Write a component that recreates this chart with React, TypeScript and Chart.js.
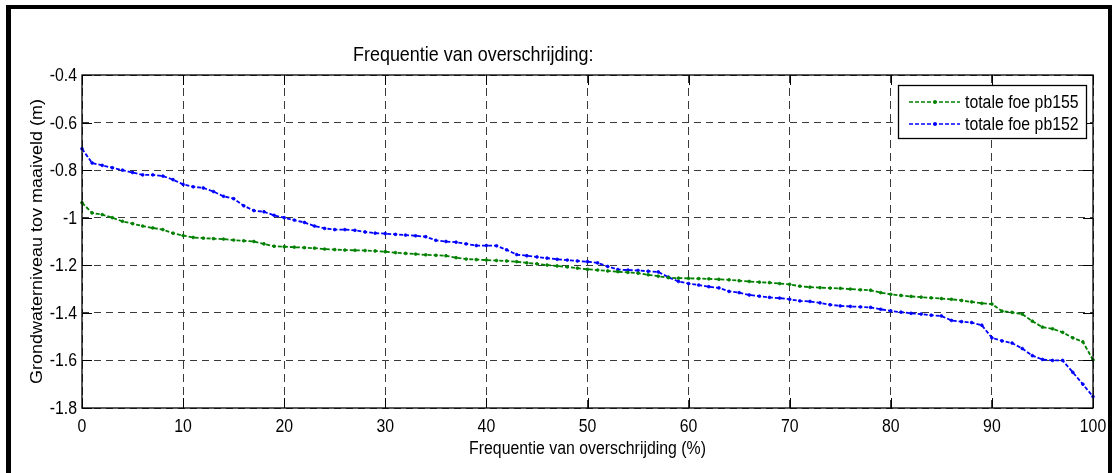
import React, { useEffect, useRef } from "react";
import { Chart, registerables } from "chart.js";

Chart.register(...registerables);

// ---------------- data ----------------
const frequency = [
  0, 1, 2, 3, 4, 5, 6, 7, 8, 9, 10, 11, 12, 13, 14, 15, 16, 17, 18, 19, 20,
  21, 22, 23, 24, 25, 26, 27, 28, 29, 30, 31, 32, 33, 34, 35, 36, 37, 38, 39, 40,
  41, 42, 43, 44, 45, 46, 47, 48, 49, 50, 51, 52, 53, 54, 55, 56, 57, 58, 59, 60,
  61, 62, 63, 64, 65, 66, 67, 68, 69, 70, 71, 72, 73, 74, 75, 76, 77, 78, 79, 80,
  81, 82, 83, 84, 85, 86, 87, 88, 89, 90, 91, 92, 93, 94, 95, 96, 97, 98, 99, 100,
];

const pb155 = [
  -0.937, -0.98, -0.987, -1.0, -1.015, -1.025, -1.035, -1.043, -1.05, -1.065, -1.075,
  -1.083, -1.086, -1.088, -1.09, -1.094, -1.097, -1.1, -1.11, -1.12, -1.122,
  -1.124, -1.126, -1.128, -1.132, -1.134, -1.136, -1.137, -1.138, -1.14, -1.143,
  -1.147, -1.15, -1.153, -1.156, -1.158, -1.16, -1.168, -1.174, -1.176, -1.178,
  -1.18, -1.182, -1.185, -1.19, -1.194, -1.199, -1.203, -1.207, -1.212, -1.217,
  -1.22, -1.224, -1.227, -1.23, -1.233, -1.24, -1.246, -1.252, -1.254, -1.255,
  -1.256, -1.257, -1.259, -1.261, -1.265, -1.268, -1.271, -1.273, -1.277, -1.28,
  -1.288, -1.292, -1.294, -1.296, -1.297, -1.3, -1.303, -1.305, -1.315, -1.322,
  -1.327, -1.331, -1.334, -1.337, -1.34, -1.343, -1.348, -1.354, -1.36, -1.363,
  -1.393, -1.398, -1.405, -1.435, -1.46, -1.467, -1.482, -1.505, -1.522, -1.598,
];

const pb152 = [
  -0.71, -0.77, -0.78, -0.79, -0.8, -0.81, -0.82, -0.82, -0.825, -0.84, -0.86,
  -0.87, -0.875, -0.89, -0.91, -0.92, -0.95, -0.97, -0.975, -0.99, -1.0,
  -1.01, -1.02, -1.035, -1.045, -1.05, -1.05, -1.053, -1.06, -1.065, -1.067,
  -1.07, -1.073, -1.076, -1.08, -1.095, -1.1, -1.103, -1.11, -1.117, -1.117,
  -1.118, -1.135, -1.155, -1.16, -1.165, -1.17, -1.175, -1.178, -1.182, -1.185,
  -1.19, -1.205, -1.218, -1.22, -1.222, -1.225, -1.228, -1.25, -1.268, -1.277,
  -1.283, -1.29, -1.295, -1.31, -1.315, -1.325, -1.33, -1.335, -1.338, -1.343,
  -1.35, -1.352, -1.358, -1.366, -1.371, -1.373, -1.375, -1.377, -1.385, -1.392,
  -1.397, -1.402, -1.405, -1.41, -1.413, -1.432, -1.437, -1.441, -1.452, -1.505,
  -1.518, -1.527, -1.55, -1.58, -1.596, -1.6, -1.6, -1.65, -1.7, -1.752,
];

const seriesLabels = ["totale foe pb155", "totale foe pb152"];
const seriesColors = ["#008000", "#0000ff"];

const xTicks = [0, 10, 20, 30, 40, 50, 60, 70, 80, 90, 100];
const xTickLabels = ["0", "10", "20", "30", "40", "50", "60", "70", "80", "90", "100"];
const yTicks = [-1.8, -1.6, -1.4, -1.2, -1.0, -0.8, -0.6, -0.4];
const yTickLabels = ["-1.8", "-1.6", "-1.4", "-1.2", "-1", "-0.8", "-0.6", "-0.4"];

const chartTitle = "Frequentie van overschrijding:";
const xTitle = "Frequentie van overschrijding (%)";
const yTitle = "Grondwaterniveau tov maaiveld (m)";

// ---------------- styling helpers ----------------
const KX = 0.88;
const FONT = "'Liberation Sans', Arial, sans-serif";

function drawText(
  ctx: CanvasRenderingContext2D,
  s: string,
  x: number,
  y: number,
  size: number,
  align: CanvasTextAlign,
  baseline: CanvasTextBaseline
) {
  ctx.save();
  ctx.translate(x, y);
  ctx.scale(KX, 1);
  ctx.font = `${size}px ${FONT}`;
  ctx.fillStyle = "#000";
  ctx.textAlign = align;
  ctx.textBaseline = baseline;
  ctx.fillText(s, 0, 0);
  ctx.restore();
}

const decorPlugin = {
  id: "matlabDecor",
  beforeDraw(chart: any) {
    const { ctx, width, height } = chart;
    ctx.save();
    ctx.fillStyle = "#fff";
    ctx.fillRect(0, 0, width, height);
    ctx.restore();
  },
  afterDraw(chart: any) {
    const { ctx, chartArea: a, scales } = chart;
    const xs = scales.x;
    const ys = scales.y;
    ctx.save();
    ctx.setLineDash([]);
    ctx.strokeStyle = "#000";
    ctx.lineWidth = 1.3;
    ctx.strokeRect(a.left, a.top, a.right - a.left, a.bottom - a.top);

    // inward ticks on all four sides
    const TL = 10;
    ctx.lineWidth = 1;
    ctx.beginPath();
    xTicks.forEach((v) => {
      const px = Math.round(xs.getPixelForValue(v)) + 0.5;
      ctx.moveTo(px, a.bottom);
      ctx.lineTo(px, a.bottom - TL);
      ctx.moveTo(px, a.top);
      ctx.lineTo(px, a.top + TL);
    });
    yTicks.forEach((v) => {
      const py = Math.round(ys.getPixelForValue(v)) + 0.5;
      ctx.moveTo(a.left, py);
      ctx.lineTo(a.left + TL, py);
      ctx.moveTo(a.right, py);
      ctx.lineTo(a.right - TL, py);
    });
    ctx.stroke();

    // tick labels
    xTicks.forEach((v, i) => {
      drawText(ctx, xTickLabels[i], xs.getPixelForValue(v), a.bottom + 24, 18, "center", "alphabetic");
    });
    yTicks.forEach((v, i) => {
      drawText(ctx, yTickLabels[i], a.left - 5, ys.getPixelForValue(v) + 1, 18, "right", "middle");
    });

    // titles
    drawText(ctx, chartTitle, 353, 61, 20.4, "left", "alphabetic");
    drawText(ctx, xTitle, (a.left + a.right) / 2, 454, 18, "center", "alphabetic");

    ctx.save();
    ctx.translate(41.5, (a.top + a.bottom) / 2);
    ctx.scale(KX, 1);
    ctx.rotate(-Math.PI / 2);
    ctx.font = `18px ${FONT}`;
    ctx.fillStyle = "#000";
    ctx.textAlign = "center";
    ctx.textBaseline = "alphabetic";
    ctx.fillText(yTitle, 0, 0);
    ctx.restore();

    // legend
    const lx = 898, ly = 85, lw = 188, lh = 53;
    ctx.fillStyle = "#fff";
    ctx.fillRect(lx, ly, lw, lh);
    ctx.strokeStyle = "#000";
    ctx.lineWidth = 1.3;
    ctx.strokeRect(lx + 0.5, ly + 0.5, lw, lh);
    const rows = [102, 124];
    seriesLabels.forEach((lab, i) => {
      const y = rows[i];
      ctx.strokeStyle = seriesColors[i];
      ctx.lineWidth = 1.7;
      ctx.setLineDash([4, 2]);
      ctx.beginPath();
      ctx.moveTo(909, y);
      ctx.lineTo(960, y);
      ctx.stroke();
      ctx.setLineDash([]);
      ctx.fillStyle = seriesColors[i];
      ctx.beginPath();
      ctx.arc(935, y, 1.9, 0, Math.PI * 2);
      ctx.fill();
      drawText(ctx, lab, 965, y + 1, 18, "left", "middle");
    });
    ctx.restore();
  },
};

export default function App() {
  const ref = useRef<HTMLCanvasElement>(null);

  useEffect(() => {
    const canvas = ref.current;
    if (!canvas) return;
    const seriesValues = [pb155, pb152];
    const chart = new Chart(canvas, {
      type: "line",
      data: {
        datasets: seriesValues.map((vals, k) => ({
          label: seriesLabels[k],
          data: frequency.map((f, i) => ({ x: f, y: vals[i] })),
          borderColor: seriesColors[k],
          backgroundColor: seriesColors[k],
          borderWidth: 1.8,
          borderDash: [4, 2],
          pointRadius: 1.4,
          pointBorderWidth: 0.8,
          pointBackgroundColor: seriesColors[k],
          pointBorderColor: seriesColors[k],
          pointHoverRadius: 0,
          tension: 0,
          fill: false,
          clip: 6,
        })),
      },
      options: {
        responsive: false,
        maintainAspectRatio: false,
        devicePixelRatio: 1,
        animation: false,
        events: [],
        layout: { padding: { left: 0, top: 75, right: 24, bottom: 0 } },
        plugins: {
          legend: { display: false },
          title: { display: false },
          tooltip: { enabled: false },
        },
        scales: {
          x: {
            type: "linear",
            min: 0,
            max: 100,
            ticks: { display: false, stepSize: 10 },
            grid: { color: "#3a3a3a", lineWidth: 1, drawTicks: false },
            border: { display: false, dash: [8, 5] },
            afterFit: (s: any) => {
              s.height = 65;
            },
          },
          y: {
            type: "linear",
            min: -1.8,
            max: -0.4,
            ticks: { display: false, stepSize: 0.2 },
            grid: { color: "#3a3a3a", lineWidth: 1, drawTicks: false },
            border: { display: false, dash: [7, 5] },
            afterFit: (s: any) => {
              s.width = 82;
            },
          },
        },
      },
      plugins: [decorPlugin],
    } as any);
    return () => chart.destroy();
  }, []);

  return (
    <div
      style={{
        position: "fixed",
        left: 0,
        top: 0,
        width: 1117,
        height: 473,
        overflow: "hidden",
        background: "#fff",
      }}
    >
      <canvas
        ref={ref}
        width={1117}
        height={473}
        style={{ position: "absolute", left: 0, top: 0, width: 1117, height: 473 }}
      />
      <div
        style={{
          position: "absolute",
          left: 6,
          top: 5,
          width: 1106,
          height: 520,
          boxSizing: "border-box",
          borderTop: "4px solid #000",
          borderLeft: "5px solid #000",
          borderRight: "4px solid #000",
          pointerEvents: "none",
        }}
      />
    </div>
  );
}
